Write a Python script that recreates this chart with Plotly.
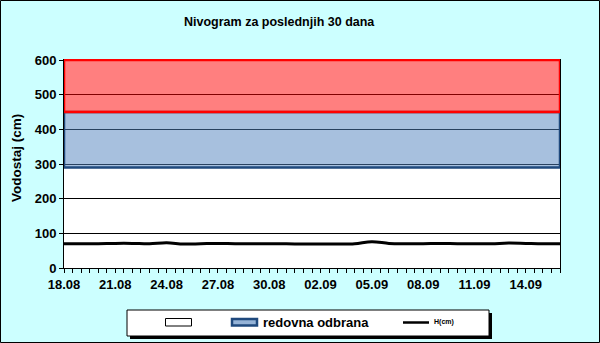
import plotly.graph_objects as go

# ---- data ----
dates = ["2024-08-18", "2024-08-19", "2024-08-20", "2024-08-21", "2024-08-22",
         "2024-08-23", "2024-08-24", "2024-08-25", "2024-08-26", "2024-08-27",
         "2024-08-28", "2024-08-29", "2024-08-30", "2024-08-31", "2024-09-01",
         "2024-09-02", "2024-09-03", "2024-09-04", "2024-09-05", "2024-09-06",
         "2024-09-07", "2024-09-08", "2024-09-09", "2024-09-10", "2024-09-11",
         "2024-09-12", "2024-09-13", "2024-09-14", "2024-09-15", "2024-09-16"]
h_cm = [70, 70, 70, 71, 71, 70, 73, 69, 70, 71,
        70, 70, 70, 70, 69, 69, 69, 70, 76, 71,
        70, 70, 71, 70, 70, 70, 72, 71, 70, 70]
band_levels = [290, 450, 600]          # redovna odbrana: 290-450, red zone: 450-600
y_ticks = [0, 100, 200, 300, 400, 500, 600]

FONT = "Liberation Sans, Arial, sans-serif"
W, H = 600, 343
L, R, T, B = 64, 40, 59, 75
PW, PH = W - L - R, H - T - B


def px(x):
    return (x - L) / PW


def py(y):
    return (H - B - y) / PH


x0, x1 = dates[0], dates[-1]
fig = go.Figure()

# blue band (redovna odbrana)
fig.add_trace(go.Scatter(
    x=[x0, x1, x1, x0, x0],
    y=[band_levels[0], band_levels[0], band_levels[1], band_levels[1], band_levels[0]],
    fill="toself", fillcolor="rgba(79,129,189,0.5)",
    line=dict(color="#1F497D", width=2.5), mode="lines",
    hoverinfo="skip", showlegend=False))
# red band
fig.add_trace(go.Scatter(
    x=[x0, x1, x1, x0, x0],
    y=[band_levels[1], band_levels[1], band_levels[2], band_levels[2], band_levels[1]],
    fill="toself", fillcolor="rgba(255,0,0,0.5)",
    line=dict(color="#FF0000", width=2.5), mode="lines",
    hoverinfo="skip", showlegend=False))
# water level
fig.add_trace(go.Scatter(
    x=dates, y=h_cm, mode="lines", line=dict(color="black", width=3, shape="spline"),
    name="H(cm)", showlegend=False))

fig.update_layout(
    width=W, height=H,
    margin=dict(l=L, r=R, t=T, b=B),
    paper_bgcolor="#CCFFFF", plot_bgcolor="white",
    font=dict(family=FONT, color="black"),
    showlegend=False,
)
fig.update_xaxes(
    type="date", range=[x0, x1], tick0=x0, dtick=3 * 86400000, tickformat="%d.%m",
    ticks="outside", ticklen=4, tickcolor="black", tickwidth=1,
    minor=dict(dtick=12 * 3600000, ticks="outside", ticklen=4, tickcolor="black", tickwidth=1, showgrid=False),
    showline=True, linecolor="black", linewidth=1, mirror=False,
    showgrid=False, layer="below traces",
    tickfont=dict(family=FONT, size=13, weight="bold", color="black"),
)
fig.update_yaxes(
    range=[0, 603], tickvals=y_ticks,
    ticks="outside", ticklen=4, tickcolor="black", tickwidth=1,
    showline=True, linecolor="black", linewidth=1, mirror=True,
    showgrid=True, gridcolor="black", gridwidth=1, zeroline=False,
    layer="below traces",
    tickfont=dict(family=FONT, size=13, weight="bold", color="black"),
)

shapes = []
ann = []
# outer border
shapes.append(dict(type="rect", xref="paper", yref="paper",
                   x0=px(0.5), x1=px(W - 0.5), y0=py(H - 0.5), y1=py(0.5),
                   line=dict(color="black", width=1), fillcolor="rgba(0,0,0,0)"))
# legend shadow + box
shapes.append(dict(type="rect", xref="paper", yref="paper",
                   x0=px(130), x1=px(492), y0=py(339), y1=py(313),
                   line=dict(width=0), fillcolor="black"))
shapes.append(dict(type="rect", xref="paper", yref="paper",
                   x0=px(127), x1=px(489), y0=py(336), y1=py(310),
                   line=dict(color="black", width=1), fillcolor="white"))
# legend icons
shapes.append(dict(type="rect", xref="paper", yref="paper",
                   x0=px(165.5), x1=px(191.5), y0=py(326), y1=py(318.5),
                   line=dict(color="black", width=1), fillcolor="white"))
shapes.append(dict(type="rect", xref="paper", yref="paper",
                   x0=px(232), x1=px(257), y0=py(325.5), y1=py(319),
                   line=dict(color="#1F497D", width=2.5), fillcolor="#95B3D7"))
shapes.append(dict(type="line", xref="paper", yref="paper",
                   x0=px(403), x1=px(429), y0=py(322.5), y1=py(322.5),
                   line=dict(color="black", width=2.5)))
ann.append(dict(text="redovna odbrana", xref="paper", yref="paper",
                x=px(261), y=py(322.5), xanchor="left", yanchor="middle", showarrow=False,
                font=dict(family=FONT, size=13, weight="bold", color="black")))
ann.append(dict(text="H(cm)", xref="paper", yref="paper",
                x=px(432), y=py(322.5), xanchor="left", yanchor="middle", showarrow=False,
                font=dict(family=FONT, size=7, weight="bold", color="black")))
# title
ann.append(dict(text="Nivogram za poslednjih 30 dana", xref="paper", yref="paper",
                x=px(279), y=py(22), xanchor="center", yanchor="middle", showarrow=False,
                font=dict(family=FONT, size=12.5, weight="bold", color="black")))
# y-axis title
ann.append(dict(text="Vodostaj (cm)", xref="paper", yref="paper", textangle=-90,
                x=px(16), y=py(158), xanchor="center", yanchor="middle", showarrow=False,
                font=dict(family=FONT, size=13.5, weight="bold", color="black")))

fig.update_layout(shapes=shapes, annotations=ann)
fig.write_html("out.html")
